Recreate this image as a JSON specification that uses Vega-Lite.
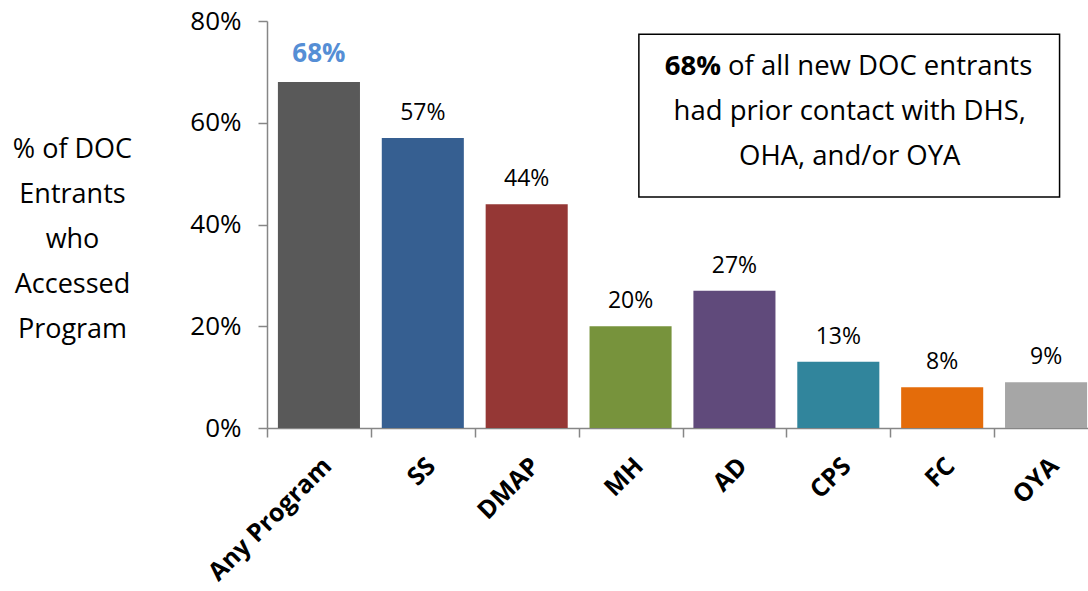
{
  "$schema": "https://vega.github.io/schema/vega-lite/v6.json",
  "autosize": "none",
  "padding": {"left": 267, "top": 21, "right": 0, "bottom": 163},
  "width": 821,
  "height": 407,
  "background": "white",
  "config": {
    "font": "Open Sans",
    "view": {"stroke": null},
    "axis": {"grid": false, "domainColor": "#868686", "tickColor": "#868686", "domainWidth": 1.5, "tickWidth": 1.5, "labelColor": "black", "titleColor": "black", "labelFont": "Open Sans", "titleFont": "Open Sans"}
  },
  "datasets": {
    "bars": [
      {"Program": "Any Program", "Share": 0.68},
      {"Program": "SS", "Share": 0.57},
      {"Program": "DMAP", "Share": 0.44},
      {"Program": "MH", "Share": 0.20},
      {"Program": "AD", "Share": 0.27},
      {"Program": "CPS", "Share": 0.13},
      {"Program": "FC", "Share": 0.08},
      {"Program": "OYA", "Share": 0.09}
    ],
    "box": [{"x1": 3.58, "x2": 7.63, "y1": 0.454, "y2": 0.774}],
    "boxText": [
      {"bx": 5.61, "by": 0.605, "t": "had prior contact with DHS,"},
      {"bx": 5.61, "by": 0.517, "t": "OHA, and/or OYA"}
    ],
    "boxFirst": [{"bx": 4.40, "by": 0.694, "bold": "68%", "rest": "of all new DOC entrants"}]
  },
  "layer": [
    {
      "data": {"name": "bars"},
      "encoding": {
        "x": {
          "field": "Program", "type": "nominal", "sort": null,
          "scale": {"range": [0, 831], "paddingInner": 0.21, "paddingOuter": 0.105},
          "axis": {"title": null, "orient": "bottom", "labelAngle": -45, "labelFontSize": 25, "labelFontWeight": "bold", "labelPadding": 25, "ticks": false}
        },
        "y": {
          "field": "Share", "type": "quantitative",
          "scale": {"domain": [0, 0.8]},
          "axis": {
            "values": [0, 0.2, 0.4, 0.6, 0.8], "format": ".0%",
            "labelFontSize": 26, "labelPadding": 17, "tickSize": 9,
            "title": ["% of DOC", "Entrants", "who", "Accessed", "Program"],
            "titleAngle": 0, "titleAlign": "center", "titleBaseline": "alphabetic",
            "titleX": -195, "titleY": 136, "titleFontSize": 27, "titleFontWeight": "normal", "titleLineHeight": 45
          }
        }
      },
      "layer": [
        {
          "mark": {"type": "bar"},
          "encoding": {
            "color": {
              "field": "Program", "type": "nominal", "legend": null,
              "scale": {
                "domain": ["Any Program", "SS", "DMAP", "MH", "AD", "CPS", "FC", "OYA"],
                "range": ["#595959", "#365F91", "#953735", "#77933C", "#604A7B", "#31859C", "#E46C0A", "#A6A6A6"]
              }
            }
          }
        },
        {
          "transform": [{"filter": "datum.Program !== 'Any Program'"}],
          "mark": {"type": "text", "baseline": "alphabetic", "dy": -18, "fontSize": 23, "color": "black"},
          "encoding": {"text": {"field": "Share", "type": "quantitative", "format": ".0%"}}
        },
        {
          "transform": [{"filter": "datum.Program === 'Any Program'"}],
          "mark": {"type": "text", "baseline": "alphabetic", "dy": -20, "fontSize": 26, "fontWeight": "bold", "color": "#558ED5"},
          "encoding": {"text": {"field": "Share", "type": "quantitative", "format": ".0%"}}
        }
      ]
    },
    {
      "layer": [
        {
          "data": {"name": "box"},
          "mark": {"type": "rect", "fill": "white", "stroke": "black", "strokeWidth": 1.5},
          "encoding": {
            "x": {
              "field": "x1", "type": "quantitative", "scale": {"domain": [0, 8], "range": [0, 831]},
              "axis": {"orient": "bottom", "title": null, "values": [0, 1, 2, 3, 4, 5, 6, 7, 8], "labels": false, "domain": false, "tickSize": 9, "grid": false}
            },
            "x2": {"field": "x2"},
            "y": {"field": "y1", "type": "quantitative"},
            "y2": {"field": "y2"}
          }
        },
        {
          "data": {"name": "boxText"},
          "mark": {"type": "text", "align": "center", "baseline": "alphabetic", "fontSize": 27.5, "color": "black"},
          "encoding": {
            "x": {
              "field": "bx", "type": "quantitative", "scale": {"domain": [0, 8], "range": [0, 831]},
              "axis": {"orient": "bottom", "title": null, "values": [0, 1, 2, 3, 4, 5, 6, 7, 8], "labels": false, "domain": false, "tickSize": 9, "grid": false}
            },
            "y": {"field": "by", "type": "quantitative"},
            "text": {"field": "t"}
          }
        },
        {
          "data": {"name": "boxFirst"},
          "mark": {"type": "text", "align": "right", "baseline": "alphabetic", "fontSize": 27.5, "fontWeight": "bold", "color": "black", "dx": -3},
          "encoding": {
            "x": {
              "field": "bx", "type": "quantitative", "scale": {"domain": [0, 8], "range": [0, 831]},
              "axis": {"orient": "bottom", "title": null, "values": [0, 1, 2, 3, 4, 5, 6, 7, 8], "labels": false, "domain": false, "tickSize": 9, "grid": false}
            },
            "y": {"field": "by", "type": "quantitative"},
            "text": {"field": "bold"}
          }
        },
        {
          "data": {"name": "boxFirst"},
          "mark": {"type": "text", "align": "left", "baseline": "alphabetic", "fontSize": 27.5, "color": "black", "dx": 4},
          "encoding": {
            "x": {
              "field": "bx", "type": "quantitative", "scale": {"domain": [0, 8], "range": [0, 831]},
              "axis": {"orient": "bottom", "title": null, "values": [0, 1, 2, 3, 4, 5, 6, 7, 8], "labels": false, "domain": false, "tickSize": 9, "grid": false}
            },
            "y": {"field": "by", "type": "quantitative"},
            "text": {"field": "rest"}
          }
        }
      ]
    }
  ],
  "resolve": {"scale": {"x": "independent"}}
}
